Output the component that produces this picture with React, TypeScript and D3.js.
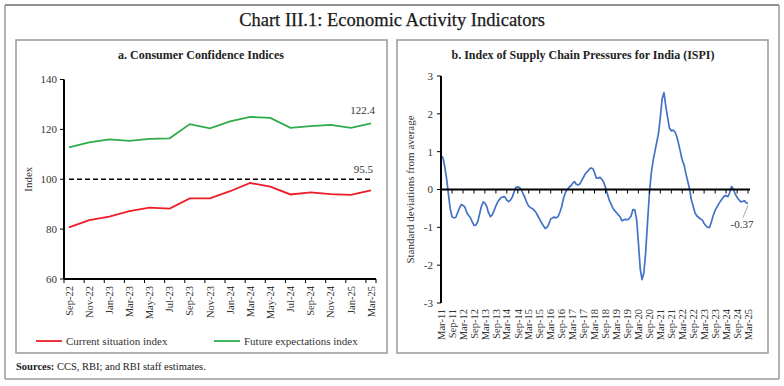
import React from "react";
import * as d3 from "d3";

const categoriesA = ["Sep-22","Nov-22","Jan-23","Mar-23","May-23","Jul-23","Sep-23","Nov-23","Jan-24","Mar-24","May-24","Jul-24","Sep-24","Nov-24","Jan-25","Mar-25"];
const currentSituation = [80.7,83.6,85.0,87.2,88.6,88.2,92.3,92.3,95.2,98.5,97.0,93.9,94.7,94.0,93.7,95.5];
const futureExpectations = [112.8,114.8,116.0,115.4,116.2,116.4,122.1,120.4,123.2,125.0,124.6,120.6,121.3,121.8,120.6,122.4];
const yTicksA = [60,80,100,120,140];
const neutralLevel = 100;

const ispiStart = new Date(2011, 2, 1);
const ispiValues = [
  0.89,0.85,0.62,0.3,-0.1,-0.5,-0.72,-0.75,-0.74,-0.62,-0.5,-0.4,
  -0.42,-0.46,-0.6,-0.68,-0.74,-0.85,-0.95,-0.94,-0.86,-0.66,-0.45,-0.33,
  -0.36,-0.45,-0.62,-0.72,-0.67,-0.56,-0.43,-0.33,-0.26,-0.21,-0.19,-0.2,
  -0.28,-0.32,-0.28,-0.2,-0.06,0.06,0.07,0.05,-0.02,-0.12,-0.23,-0.36,
  -0.44,-0.48,-0.5,-0.55,-0.61,-0.7,-0.79,-0.88,-0.96,-1.03,-1.0,-0.9,
  -0.78,-0.75,-0.73,-0.75,-0.72,-0.6,-0.45,-0.23,-0.08,0.0,0.06,0.1,
  0.16,0.21,0.14,0.12,0.15,0.24,0.33,0.42,0.47,0.53,0.57,0.55,
  0.45,0.3,0.3,0.32,0.27,0.19,0.05,-0.11,-0.28,-0.38,-0.49,-0.56,
  -0.61,-0.67,-0.72,-0.83,-0.8,-0.79,-0.8,-0.77,-0.7,-0.53,-0.54,-0.8,
  -1.4,-2.1,-2.38,-2.2,-1.65,-0.85,-0.1,0.42,0.76,1.0,1.25,1.5,
  1.9,2.4,2.56,2.2,1.9,1.62,1.55,1.57,1.52,1.4,1.2,0.98,
  0.78,0.65,0.42,0.22,0.02,-0.28,-0.45,-0.62,-0.7,-0.74,-0.78,-0.81,
  -0.9,-0.96,-1.0,-1.0,-0.85,-0.68,-0.55,-0.46,-0.38,-0.3,-0.24,-0.17,
  -0.16,-0.19,-0.08,0.08,0.0,-0.12,-0.21,-0.27,-0.33,-0.31,-0.3,-0.35,
  -0.37
];
const ispiTickLabels = ["Mar-11","Sep-11","Mar-12","Sep-12","Mar-13","Sep-13","Mar-14","Sep-14","Mar-15","Sep-15","Mar-16","Sep-16","Mar-17","Sep-17","Mar-18","Sep-18","Mar-19","Sep-19","Mar-20","Sep-20","Mar-21","Sep-21","Mar-22","Sep-22","Mar-23","Sep-23","Mar-24","Sep-24","Mar-25"];
const yTicksB = [-3,-2,-1,0,1,2,3];

const SERIF = "'Liberation Serif', 'DejaVu Serif', serif";

export default function App() {
  // Panel a scales
  const xA = d3.scalePoint<string>().domain(categoriesA).range([64, 376]).padding(0.25);
  const yA = d3.scaleLinear().domain([60, 140]).range([279, 79.5]);
  const stepA = xA.step();
  const lineA = d3.line<number>().x((_, i) => xA(categoriesA[i])!).y((d) => yA(d));

  // Panel b scales
  const ispiDates = ispiValues.map((_, i) => d3.timeMonth.offset(ispiStart, i));
  const xB = d3.scaleTime().domain([ispiDates[0], ispiDates[ispiDates.length - 1]]).range([441, 748]);
  const yB = d3.scaleLinear().domain([-3, 3]).range([303, 76]);
  const lineB = d3.line<number>().x((_, i) => xB(ispiDates[i])).y((d) => yB(d));
  const tickDatesB = ispiTickLabels.map((_, i) => d3.timeMonth.offset(ispiStart, i * 6));

  const lastA = categoriesA[categoriesA.length - 1];
  const lastIdx = ispiValues.length - 1;
  const lastX = xB(ispiDates[lastIdx]);
  const lastY = yB(ispiValues[lastIdx]);

  return (
    <svg width={784} height={386} style={{ position: "absolute", left: 0, top: 0, background: "#fff" }} fontFamily={SERIF}>
      <rect x={0} y={0} width={784} height={386} fill="#fff" />
      {/* outer frame */}
      <line x1={5} y1={5} x2={779} y2={5} stroke="#222" strokeWidth={1} />
      <line x1={5} y1={5} x2={5} y2={379} stroke="#999" strokeWidth={1.5} />
      <line x1={779} y1={5} x2={779} y2={379} stroke="#999" strokeWidth={1.5} />
      <line x1={5} y1={379} x2={779} y2={379} stroke="#999" strokeWidth={1.5} />
      <text x={392} y={26} textAnchor="middle" fontSize={18.5} fill="#1a1a1a" stroke="#1a1a1a" strokeWidth={0.25}>Chart III.1: Economic Activity Indicators</text>

      {/* panels */}
      <rect x={16} y={40} width={371} height={313} fill="none" stroke="#999" strokeWidth={1.5} />
      <rect x={397} y={40} width={371} height={313} fill="none" stroke="#999" strokeWidth={1.5} />

      {/* Panel a */}
      <text x={201} y={59} textAnchor="middle" fontSize={12} fontWeight="bold" fill="#222">a. Consumer Confidence Indices</text>
      {yTicksA.map((t) => (
        <g key={t}>
          <line x1={60} x2={64} y1={yA(t)} y2={yA(t)} stroke="#000" strokeWidth={1} />
          <text x={57} y={yA(t)} dy="0.35em" textAnchor="end" fontSize={11} fill="#333">{t}</text>
        </g>
      ))}
      <text transform={`translate(32,${yA(100)}) rotate(-90)`} textAnchor="middle" fontSize={11} fill="#333">Index</text>
      <line x1={xA(categoriesA[0])!} x2={xA(lastA)!} y1={yA(neutralLevel)} y2={yA(neutralLevel)} stroke="#000" strokeWidth={1.5} strokeDasharray="5,3" />
      <path d={lineA(futureExpectations)!} fill="none" stroke="#2eab4a" strokeWidth={1.8} />
      <path d={lineA(currentSituation)!} fill="none" stroke="#ee1c25" strokeWidth={1.8} />
      <line x1={64} x2={64} y1={yA(140)} y2={yA(60)} stroke="#000" strokeWidth={2} />
      <line x1={64} x2={376} y1={yA(60)} y2={yA(60)} stroke="#000" strokeWidth={2} />
      {categoriesA.map((c) => (
        <g key={c}>
          <line x1={xA(c)! - stepA * 0.25} x2={xA(c)! - stepA * 0.25} y1={yA(60)} y2={yA(60) + 4} stroke="#000" strokeWidth={1} />
          <text transform={`translate(${xA(c)},${yA(60) + 7}) rotate(-90)`} textAnchor="end" dy="0.35em" fontSize={10.5} fill="#333">{c}</text>
        </g>
      ))}
      <line x1={376} x2={376} y1={yA(60)} y2={yA(60) + 4} stroke="#000" strokeWidth={1} />
      <text x={xA(lastA)!} y={yA(futureExpectations[futureExpectations.length - 1]) - 9} textAnchor="end" fontSize={11} fill="#333" dx={4}>{futureExpectations[futureExpectations.length - 1].toFixed(1)}</text>
      <text x={xA(lastA)!} y={yA(neutralLevel) - 6} textAnchor="end" fontSize={11} fill="#333" dx={2}>{currentSituation[currentSituation.length - 1].toFixed(1)}</text>

      {/* legend a */}
      <line x1={36} x2={62} y1={341} y2={341} stroke="#ee1c25" strokeWidth={1.8} />
      <text x={66} y={341} dy="0.35em" fontSize={11} fill="#333">Current situation index</text>
      <line x1={214} x2={240} y1={341} y2={341} stroke="#2eab4a" strokeWidth={1.8} />
      <text x={244} y={341} dy="0.35em" fontSize={11} fill="#333">Future expectations index</text>

      {/* Panel b */}
      <text x={583} y={59} textAnchor="middle" fontSize={12} fontWeight="bold" fill="#222">b. Index of Supply Chain Pressures for India (ISPI)</text>
      {yTicksB.map((t) => (
        <g key={t}>
          <line x1={437} x2={441} y1={yB(t)} y2={yB(t)} stroke="#000" strokeWidth={1} />
          <text x={433} y={yB(t)} dy="0.35em" textAnchor="end" fontSize={11} fill="#333">{t}</text>
        </g>
      ))}
      <text transform={`translate(414,${yB(0)}) rotate(-90)`} textAnchor="middle" fontSize={11} fill="#333">Standard deviations from average</text>
      <path d={lineB(ispiValues)!} fill="none" stroke="#4472c4" strokeWidth={1.7} strokeLinejoin="round" />
      <line x1={441} x2={441} y1={yB(3)} y2={yB(-3)} stroke="#000" strokeWidth={2} />
      <line x1={441} x2={750} y1={yB(0)} y2={yB(0)} stroke="#000" strokeWidth={2} />
      {tickDatesB.map((d, i) => (
        <g key={i}>
          <line x1={xB(d)} x2={xB(d)} y1={yB(0)} y2={yB(0) + 4} stroke="#000" strokeWidth={1} />
          <text transform={`translate(${xB(d)},${yB(-3) + 6}) rotate(-90)`} textAnchor="end" dy="0.35em" fontSize={10.5} fill="#333">{ispiTickLabels[i]}</text>
        </g>
      ))}
      <line x1={lastX} y1={lastY + 2} x2={lastX - 5} y2={lastY + 14} stroke="#aaa" strokeWidth={1} />
      <text x={lastX - 6} y={lastY + 25} textAnchor="middle" fontSize={11} fill="#333">{ispiValues[lastIdx].toFixed(2)}</text>

      {/* sources */}
      <text x={16} y={370} fontSize={10.5} fill="#222">
        <tspan fontWeight="bold">Sources:</tspan>
        <tspan> CCS, RBI; and RBI staff estimates.</tspan>
      </text>
    </svg>
  );
}
